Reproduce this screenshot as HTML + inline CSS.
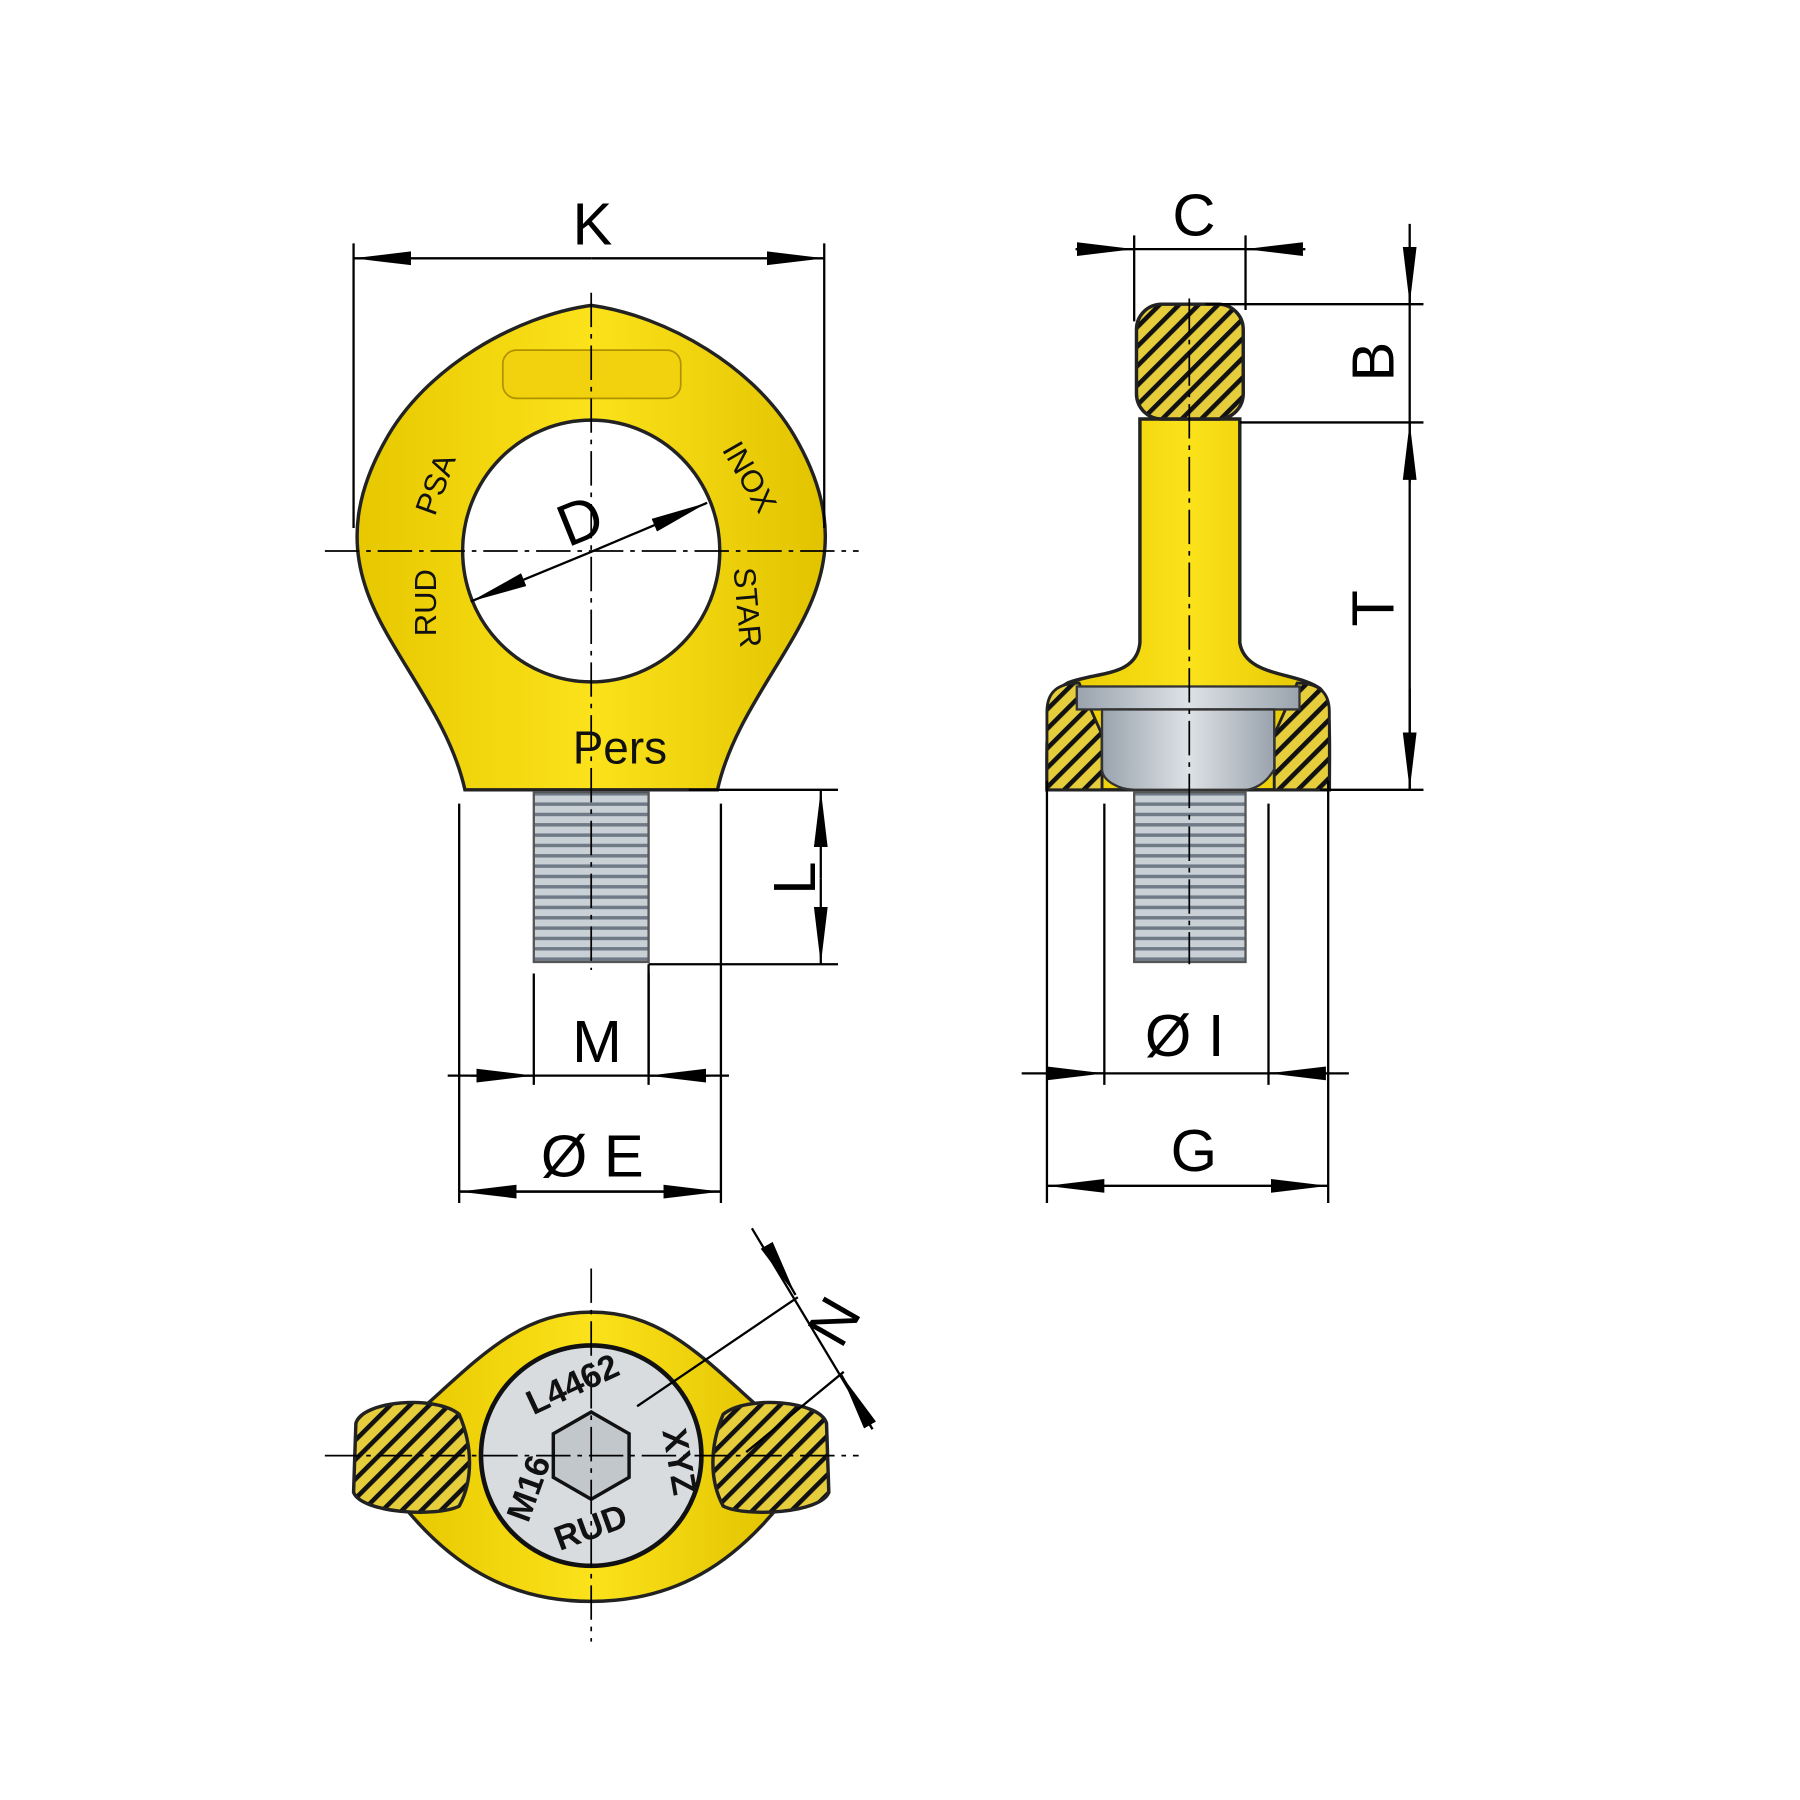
<!DOCTYPE html>
<html><head><meta charset="utf-8"><style>html,body{margin:0;padding:0;background:#fff}svg{display:block}</style></head>
<body>
<svg width="1800" height="1800" viewBox="0 0 1568 1568" xmlns="http://www.w3.org/2000/svg" font-family="Liberation Sans, sans-serif">
<defs>
<pattern id="h" width="12" height="12" patternUnits="userSpaceOnUse" patternTransform="rotate(-45)">
<rect width="12" height="12" fill="#e6cd3c"/><rect width="12" height="4" fill="#111"/>
</pattern>
<linearGradient id="y" x1="0" x2="1"><stop offset="0" stop-color="#e7c800"/><stop offset=".5" stop-color="#fbe21a"/><stop offset="1" stop-color="#e2c300"/></linearGradient>
<linearGradient id="g" x1="0" x2="1"><stop offset="0" stop-color="#9aa3ad"/><stop offset=".5" stop-color="#dde2e6"/><stop offset="1" stop-color="#9aa3ad"/></linearGradient>
<pattern id="th" width="10" height="9" patternUnits="userSpaceOnUse"><rect width="10" height="9" fill="#c9d0d6"/><rect y="6" width="10" height="3" fill="#6f7a86"/></pattern>
<marker id="a" viewBox="0 0 50 14" refX="50" refY="7" markerWidth="50" markerHeight="14" markerUnits="userSpaceOnUse" orient="auto"><path d="M0 1 L50 7 L0 13Z" fill="#000"/></marker>
</defs>
<g stroke="#000" stroke-width="2" fill="none">
<path d="M515 266 C580 275 660 320 695 385 C720 430 725 470 712 510 C695 565 640 620 625 688 L405 688 C390 620 335 565 318 510 C305 470 310 430 335 385 C370 320 450 275 515 266Z" fill="url(#y)" stroke="#222" stroke-width="3"/>
<ellipse cx="515" cy="480" rx="112" ry="114" fill="#fff" stroke="#222" stroke-width="3"/>
<rect x="438" y="305" width="155" height="42" rx="12" fill="#f2d20e" stroke="#b09200" stroke-width="1.5"/>
<rect x="465" y="690" width="100" height="148" fill="url(#th)" stroke="#555"/>
<path d="M283 480 H748 M515 255 V845" stroke-dasharray="30 6 4 6" stroke-width="1.5"/>
<path d="M308 212 V460 M718 212 V460"/>
<path d="M515 225 H308" marker-end="url(#a)"/><path d="M515 225 H718" marker-end="url(#a)"/>
<path d="M512 482 L410 524" marker-end="url(#a)"/><path d="M512 482 L616 438" marker-end="url(#a)"/>
<path d="M600 688 H730 M565 840 V935 M565 840 H730"/>
<path d="M715 765 V688" marker-end="url(#a)"/><path d="M715 765 V840" marker-end="url(#a)"/>
<path d="M465 848 V945 M565 848 V945 M390 937 H635"/>
<path d="M410 937 H465" marker-end="url(#a)"/><path d="M618 937 H565" marker-end="url(#a)"/>
<path d="M400 700 V1048 M628 700 V1048 M400 1038 H628"/>
<path d="M515 1038 H400" marker-end="url(#a)"/><path d="M515 1038 H628" marker-end="url(#a)"/>

<path d="M993 365 L1080 365 L1080 560 C1085 590 1130 585 1150 600 C1160 610 1158 640 1158 688 L912 688 C912 640 910 605 930 595 C955 585 990 590 993 560Z" fill="url(#y)" stroke="#222" stroke-width="3"/>
<rect x="990" y="265" width="93" height="100" rx="22" fill="url(#h)" stroke="#222" stroke-width="3"/>
<path d="M912 688 L912 620 C912 600 925 595 940 595 L960 640 L960 688Z" fill="url(#h)" stroke="#222" stroke-width="2.5"/>
<path d="M1158 688 L1158 620 C1158 600 1145 595 1130 595 L1110 640 L1110 688Z" fill="url(#h)" stroke="#222" stroke-width="2.5"/>
<rect x="938" y="598" width="194" height="20" fill="url(#g)" stroke="#333"/>
<path d="M960 618 H1110 L1110 670 C1100 688 1085 688 1085 688 L988 688 C975 688 960 680 960 670Z" fill="url(#g)" stroke="#333"/>
<rect x="988" y="690" width="97" height="148" fill="url(#th)" stroke="#555"/>
<path d="M1036 260 V840" stroke-dasharray="30 6 4 6" stroke-width="1.5"/>
<path d="M988 205 V280 M1085 205 V270 M937 217 H1137"/>
<path d="M937 217 H988" marker-end="url(#a)"/><path d="M1137 217 H1085" marker-end="url(#a)"/>
<path d="M1050 265 H1240 M1080 368 H1240 M1150 688 H1240 M1228 195 V688"/>
<path d="M1228 215 V265" marker-end="url(#a)"/><path d="M1228 420 V368" marker-end="url(#a)"/><path d="M1228 600 V688" marker-end="url(#a)"/>
<path d="M962 700 V945 M1105 700 V945 M890 935 H1175"/>
<path d="M912 935 H962" marker-end="url(#a)"/><path d="M1155 935 H1105" marker-end="url(#a)"/>
<path d="M912 680 V1048 M1157 680 V1048 M912 1033 H1157"/>
<path d="M1035 1033 H912" marker-end="url(#a)"/><path d="M1035 1033 H1157" marker-end="url(#a)"/>

<path d="M515 1143 C575 1143 610 1180 660 1225 L680 1310 C640 1360 590 1395 515 1395 C440 1395 390 1360 350 1310 L370 1225 C420 1180 455 1143 515 1143Z" fill="url(#y)" stroke="#222" stroke-width="3"/>
<path d="M310 1240 C315 1220 380 1215 400 1232 C412 1260 412 1290 400 1312 C380 1322 315 1318 308 1300Z" fill="url(#h)" stroke="#222" stroke-width="3"/>
<path d="M720 1240 C715 1220 650 1215 630 1232 C618 1260 618 1290 630 1312 C650 1322 715 1318 722 1300Z" fill="url(#h)" stroke="#222" stroke-width="3"/>
<circle cx="515" cy="1268" r="96" fill="#d8dcdf" stroke="#111" stroke-width="4"/>
<path d="M515 1230 L548 1249 L548 1287 L515 1306 L482 1287 L482 1249Z" fill="#c2c7cc" stroke="#111" stroke-width="3"/>
<path d="M283 1268 H748 M515 1105 V1430" stroke-dasharray="30 6 4 6" stroke-width="1.5"/>
<path d="M555 1225 L695 1130 M650 1265 L735 1195 M655 1070 L760 1245"/>
<path d="M668 1085 L693 1128" marker-end="url(#a)"/><path d="M760 1245 L733 1198" marker-end="url(#a)"/>
</g>
<g font-size="52" fill="#000" text-anchor="middle">
<text x="516" y="213">K</text>
<text x="1040" y="205">C</text>
<text x="520" y="925">M</text>
<text x="516" y="1025">Ø E</text>
<text x="1032" y="920">Ø I</text>
<text x="1040" y="1020">G</text>
<text transform="translate(512 470) rotate(-22)">D</text>
<text transform="translate(710 765) rotate(-90)">L</text>
<text transform="translate(1214 315) rotate(-90)">B</text>
<text transform="translate(1214 530) rotate(-90)">T</text>
<text transform="translate(742 1160) rotate(-60)">N</text>
</g>
<g font-size="30" fill="#111" text-anchor="middle">
<text x="540" y="665" font-size="40">Pers</text>
<text transform="translate(388 425) rotate(-70)" font-size="27">PSA</text>
<text transform="translate(380 525) rotate(-90)" font-size="27">RUD</text>
<text transform="translate(645 420) rotate(60)" font-size="27">INOX</text>
<text transform="translate(642 530) rotate(85)" font-size="27">STAR</text>
<text transform="translate(503 1215) rotate(-25)" font-weight="bold">L4462</text>
<text transform="translate(582 1275) rotate(80)" font-weight="bold">XYZ</text>
<text transform="translate(518 1340) rotate(-20)" font-weight="bold">RUD</text>
<text transform="translate(470 1300) rotate(-70)" font-weight="bold">M16</text>
</g>
</svg>
</body></html>
